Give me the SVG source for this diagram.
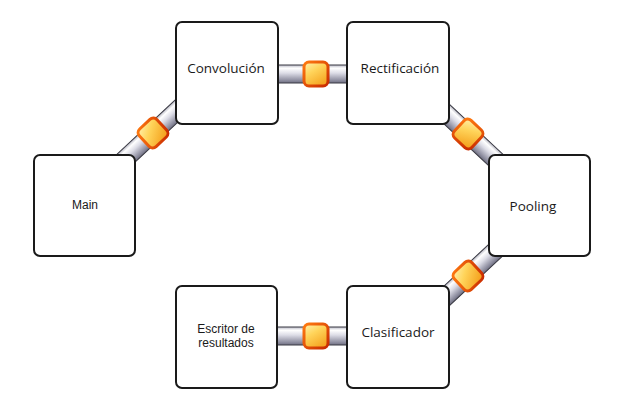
<svg xmlns="http://www.w3.org/2000/svg" width="639" height="403" viewBox="0 0 639 403">
<defs>
<linearGradient id="tubeGrad" x1="0" y1="0" x2="0" y2="1">
<stop offset="0" stop-color="#b8b8c4"/>
<stop offset="0.18" stop-color="#ffffff"/>
<stop offset="0.45" stop-color="#dcdce6"/>
<stop offset="0.85" stop-color="#8e8ea0"/>
<stop offset="1" stop-color="#6e6e80"/>
</linearGradient>
<linearGradient id="knobGrad" x1="0" y1="0" x2="0.6" y2="1">
<stop offset="0" stop-color="#fff2b0"/>
<stop offset="0.45" stop-color="#ffd45a"/>
<stop offset="1" stop-color="#f5a623"/>
</linearGradient>
<linearGradient id="knobStroke" x1="0" y1="0" x2="1" y2="1">
<stop offset="0" stop-color="#ff7a10"/>
<stop offset="1" stop-color="#c82a00"/>
</linearGradient>
</defs>
<style>
.box{fill:#ffffff;stroke:#1a1a1a;stroke-width:2}
.tube{fill:url(#tubeGrad);stroke:#3a3a44;stroke-width:1}
.knob{fill:url(#knobGrad);stroke:url(#knobStroke);stroke-width:3}
.lbl{font-family:"Open Sans","Liberation Sans",sans-serif;font-size:13.5px;fill:#1a1a1a;text-anchor:middle}
.lbl2{font-family:"Liberation Sans",Arial,sans-serif;font-size:12px;fill:#1a1a1a;text-anchor:middle}
</style>
<rect width="639" height="403" fill="#ffffff"/>
<g id="connectors">
<g transform="translate(316,74)"><rect class="tube" x="-46" y="-9" width="92" height="18"/><rect class="knob" x="-12" y="-12" width="24" height="24" rx="5"/></g>
<g transform="translate(316,336)"><rect class="tube" x="-46" y="-9" width="92" height="18"/><rect class="knob" x="-12" y="-12" width="24" height="24" rx="5"/></g>
<g transform="translate(153,133) rotate(-43)"><rect class="tube" x="-50" y="-9" width="100" height="18"/><rect class="knob" x="-12" y="-12" width="24" height="24" rx="5"/></g>
<g transform="translate(468,134) rotate(43)"><rect class="tube" x="-50" y="-9" width="100" height="18"/><rect class="knob" x="-12" y="-12" width="24" height="24" rx="5"/></g>
<g transform="translate(468,276) rotate(-43)"><rect class="tube" x="-50" y="-9" width="100" height="18"/><rect class="knob" x="-12" y="-12" width="24" height="24" rx="5"/></g>
</g>
<g id="main"><rect class="box" x="34" y="155" width="101" height="101" rx="6"/><text class="lbl2" x="85" y="209">Main</text></g>
<g id="convolucion"><rect class="box" x="176" y="22" width="102" height="102" rx="6"/><text class="lbl" x="226" y="73">Convolución</text></g>
<g id="rectificacion"><rect class="box" x="347" y="22" width="102" height="102" rx="6"/><text class="lbl" x="400" y="73">Rectificación</text></g>
<g id="pooling"><rect class="box" x="489" y="155" width="101" height="101" rx="6"/><text class="lbl" x="533" y="211">Pooling</text></g>
<g id="clasificador"><rect class="box" x="347" y="286" width="102" height="102" rx="6"/><text class="lbl" x="398" y="337">Clasificador</text></g>
<g id="escritor"><rect class="box" x="176" y="286" width="101" height="102" rx="6"/><text class="lbl2" x="226" y="333">Escritor de</text><text class="lbl2" x="226" y="347">resultados</text></g>
</svg>
